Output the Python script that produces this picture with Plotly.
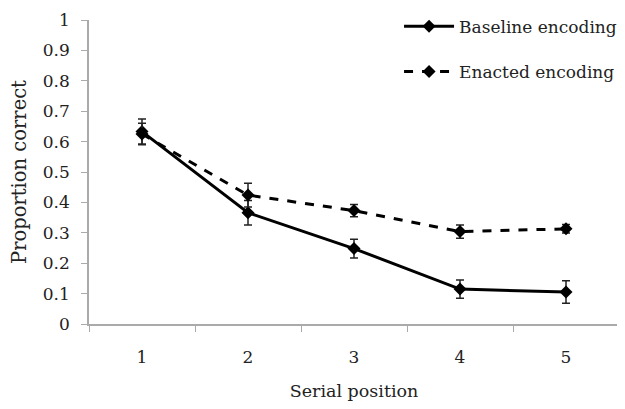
import plotly.graph_objects as go

positions = ["1", "2", "3", "4", "5"]
baseline = [0.633, 0.366, 0.248, 0.115, 0.105]
baseline_err = [0.041, 0.040, 0.031, 0.030, 0.037]
enacted = [0.625, 0.424, 0.373, 0.304, 0.313]
enacted_err = [0.035, 0.039, 0.020, 0.022, 0.014]
y_ticks = [0, 0.1, 0.2, 0.3, 0.4, 0.5, 0.6, 0.7, 0.8, 0.9, 1]
y_tick_labels = ["0", "0.1", "0.2", "0.3", "0.4", "0.5", "0.6", "0.7", "0.8", "0.9", "1"]

FONT = "DejaVu Serif"
FS = 17

fig = go.Figure()
fig.add_trace(go.Scatter(
    x=positions, y=baseline, name="Baseline encoding", mode="lines+markers",
    line=dict(color="black", width=3),
    marker=dict(symbol="diamond", size=10, color="black"),
    error_y=dict(type="data", array=baseline_err, visible=True, color="#222", thickness=1.5, width=4),
    legendgroup="a",
))
fig.add_trace(go.Scatter(
    x=positions, y=enacted, name="Enacted encoding", mode="lines+markers",
    line=dict(color="black", width=3, dash="dash"),
    marker=dict(symbol="diamond", size=10, color="black"),
    error_y=dict(type="data", array=enacted_err, visible=True, color="#222", thickness=1.5, width=4),
    legendgroup="b",
))

fig.update_layout(
    width=617, height=393,
    margin=dict(l=81, r=6, t=12, b=77, autoexpand=False),
    paper_bgcolor="white", plot_bgcolor="white",
    font=dict(family=FONT, size=FS, color="#222"),
    showlegend=True,
    legend=dict(x=0.585, y=1.037, xanchor="left", yanchor="top",
                traceorder="grouped", tracegroupgap=20, itemwidth=50,
                font=dict(family=FONT, size=17, color="#222"),
                bgcolor="rgba(0,0,0,0)"),
    xaxis=dict(type="category", range=[-0.5, 4.5], showline=True, linecolor="#aaa", linewidth=1.5,
               ticks="outside", ticklen=6, tickcolor="#aaa", tickson="boundaries",
               showgrid=False, zeroline=False, automargin=True, ticklabelstandoff=17,
               title=dict(text="Serial position", font=dict(family=FONT, size=17.5), standoff=22),
               tickfont=dict(family=FONT, size=FS)),
    yaxis=dict(range=[0, 1], tickvals=y_ticks, ticktext=y_tick_labels, showline=True,
               linecolor="#aaa", linewidth=1.5, ticks="outside", ticklen=6, tickcolor="#aaa",
               showgrid=False, zeroline=False, automargin=True, ticklabelstandoff=8,
               title=dict(text="Proportion correct", font=dict(family=FONT, size=19.5), standoff=14),
               tickfont=dict(family=FONT, size=FS)),
)

fig.write_html("out.html")
